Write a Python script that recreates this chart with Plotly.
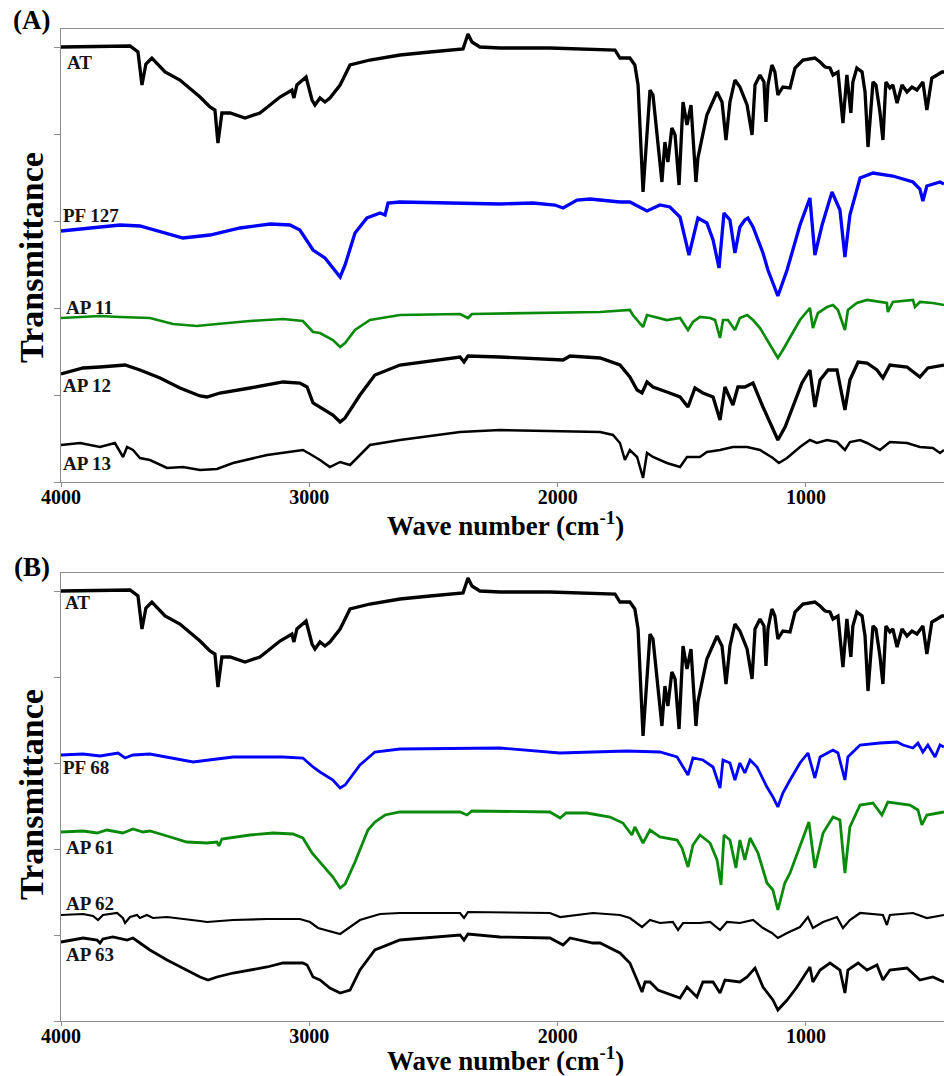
import plotly.graph_objects as go

# ---------------- data (wavenumber cm-1, transmittance in arbitrary offset units) ----------------
AT = [(4000,435),(3843,436),(3722,436),(3690,430),(3674,397),(3658,418),(3634,424),(3581,410),(3521,402),
      (3440,385),(3400,375),(3380,372),(3368,339),(3352,369),(3319,369),(3259,364),(3199,369),(3118,385),
      (3070,392),(3062,384),(3050,397),(3013,405),(2989,382),(2977,377),(2957,384),(2937,380),(2917,384),
      (2876,397),(2836,417),(2756,422),(2635,427),(2514,430),(2393,432),(2381,433),(2361,448),(2345,440),
      (2313,435),(2232,434),(2031,434),(1829,433),(1769,432),(1749,424),(1709,424),(1689,417),(1676,397),
      (1656,290),(1628,392),(1616,387),(1600,350),(1580,300),(1568,340),(1556,320),(1540,354),(1527,347),
      (1511,297),(1495,380),(1479,357),(1463,377),(1443,300),(1435,324),(1399,367),(1358,390),(1338,380),
      (1322,342),(1306,380),(1286,402),(1266,395),(1237,377),(1217,347),(1205,397),(1185,407),(1169,400),
      (1161,360),(1153,397),(1137,417),(1125,410),(1113,387),(1093,395),(1064,394),(1044,414),(1012,422),
      (964,424),(943,420),(923,415),(903,414),(891,407),(871,410),(851,359),(835,407),(819,369),(811,400),
      (795,414),(774,410),(762,390),(750,335),(730,400),(718,397),(702,370),(690,342),(678,400),(662,394),
      (650,397),(633,379),(613,397),(593,390),(573,395),(553,392),(529,400),(513,372),(493,404),(472,407),
      (452,410),(444,410)]

PF127 = [(4000,251),(3762,257),(3682,256),(3601,250),(3509,244),(3400,247),(3279,254),(3158,258),(3078,257),
         (3038,252),(3017,244),(2985,232),(2937,224),(2905,214),(2876,205),(2856,217),(2816,249),(2768,264),
         (2736,267),(2715,269),(2695,267),(2683,279),(2635,280),(2365,279),(2232,278),(2099,279),(2011,277),
         (1978,274),(1922,282),(1870,283),(1749,280),(1709,280),(1640,271),(1588,277),(1548,275),(1507,265),
         (1471,227),(1435,264),(1399,259),(1374,242),(1350,214),(1330,269),(1306,262),(1286,229),(1266,255),
         (1246,262),(1234,264),(1213,255),(1173,229),(1153,212),(1113,186),(1076,212),(1056,230),(1024,257),
         (984,284),(964,227),(935,257),(895,290),(863,272),(843,225),(823,267),(782,304),(730,309),(650,306),
         (569,300),(541,293),(529,281),(513,296),(460,300),(444,298)]

AP11 = [(4000,164),(3843,166),(3762,165),(3642,164),(3549,158),(3453,156),(3372,158),(3239,161),(3106,163),
        (3026,161),(2985,150),(2957,149),(2905,142),(2876,135),(2856,139),(2816,152),(2756,162),(2635,167),
        (2393,168),(2361,164),(2345,168),(2031,169),(1829,170),(1709,172),(1697,167),(1656,155),(1640,167),
        (1560,162),(1507,164),(1475,152),(1455,160),(1427,165),(1386,164),(1366,162),(1346,144),(1334,162),
        (1314,162),(1286,152),(1266,164),(1237,167),(1213,162),(1185,154),(1157,142),(1133,132),(1113,124),
        (1093,132),(1064,145),(1024,162),(984,174),(972,154),(952,169),(915,175),(891,177),(871,172),(843,152),
        (831,172),(795,179),(754,182),(674,179),(670,170),(650,180),(569,182),(561,175),(541,180),(489,179),
        (444,177)]

AP12 = [(4000,108),(3911,114),(3843,115),(3742,117),(3682,112),(3601,104),(3521,94),(3440,86),(3412,85),
        (3360,89),(3239,94),(3106,100),(3038,99),(3009,95),(2985,79),(2957,75),(2905,67),(2876,60),(2856,64),
        (2796,87),(2736,107),(2635,117),(2393,125),(2377,120),(2361,126),(2232,125),(1978,122),(1950,126),
        (1829,124),(1749,117),(1709,105),(1680,92),(1660,89),(1640,100),(1616,95),(1560,90),(1507,85),(1475,75),
        (1447,94),(1415,89),(1374,85),(1346,62),(1326,95),(1294,77),(1274,95),(1246,95),(1213,99),(1173,75),
        (1145,59),(1113,42),(1084,55),(1052,75),(1016,99),(984,112),(964,75),(943,102),(911,112),(875,112),
        (843,72),(823,102),(790,120),(754,119),(714,112),(690,104),(662,117),(593,115),(541,105),(509,114),
        (444,117)]

AP13 = [(4000,37),(3923,39),(3843,35),(3783,39),(3750,25),(3734,35),(3710,32),(3682,24),(3642,22),(3573,14),
        (3509,15),(3440,12),(3372,13),(3307,19),(3170,27),(3090,30),(3026,32),(2997,28),(2957,22),(2917,15),
        (2876,20),(2836,17),(2756,37),(2635,42),(2393,50),(2232,52),(1829,50),(1777,47),(1749,39),(1729,22),
        (1709,32),(1680,25),(1656,4),(1640,29),(1616,25),(1560,19),(1507,15),(1479,25),(1427,25),(1399,30),
        (1346,32),(1294,35),(1237,35),(1185,32),(1133,24),(1109,19),(1076,24),(1024,35),(984,42),(956,39),
        (915,42),(875,40),(843,32),(823,40),(782,42),(754,39),(702,32),(662,40),(593,39),(541,35),(489,34),
        (460,29),(444,32)]

PF68 = [(4000,271),(3911,272),(3843,270),(3770,273),(3742,268),(3710,271),(3642,272),(3573,269),(3468,264),
        (3372,267),(3307,269),(3106,269),(3026,268),(2985,259),(2957,254),(2905,246),(2876,238),(2856,241),
        (2796,261),(2736,274),(2635,277),(2232,278),(1991,273),(1858,274),(1721,275),(1588,274),(1519,269),
        (1475,251),(1455,268),(1415,266),(1374,259),(1346,238),(1334,266),(1306,263),(1286,246),(1266,263),
        (1246,253),(1225,266),(1197,259),(1157,239),(1133,229),(1113,219),(1093,233),(1064,246),(1024,263),
        (992,273),(964,248),(943,269),(891,276),(871,273),(843,246),(831,269),(782,281),(702,283),(633,284),
        (609,281),(569,278),(549,283),(529,274),(509,281),(480,269),(460,281),(444,279)]

AP61 = [(4000,194),(3911,195),(3855,193),(3815,196),(3751,193),(3710,197),(3670,194),(3642,195),(3573,190),
        (3493,184),(3412,183),(3372,184),(3364,180),(3352,187),(3239,191),(3146,193),(3066,192),(3026,188),
        (2989,173),(2957,164),(2905,149),(2876,138),(2856,142),(2816,164),(2764,196),(2736,204),(2695,211),
        (2635,214),(2393,214),(2365,211),(2345,215),(2031,214),(1990,208),(1966,213),(1882,213),(1789,209),
        (1737,203),(1701,191),(1689,199),(1656,183),(1628,196),(1588,189),(1519,186),(1499,178),(1475,159),
        (1455,181),(1427,191),(1386,183),(1358,166),(1342,141),(1330,191),(1306,186),(1282,158),(1266,186),
        (1246,166),(1225,188),(1193,173),(1157,143),(1133,136),(1113,116),(1085,143),(1064,153),(1024,179),
        (988,204),(964,158),(931,193),(891,209),(863,206),(843,153),(823,199),(782,221),(730,223),(694,211),
        (670,224),(581,221),(549,216),(533,201),(513,211),(444,214)]

AP62 = [(4000,111),(3911,112),(3871,110),(3851,106),(3831,111),(3774,113),(3751,108),(3742,103),(3722,109),
        (3694,111),(3682,108),(3654,111),(3630,108),(3573,109),(3440,105),(3412,104),(3307,106),(3170,107),
        (3038,107),(2997,104),(2965,98),(2917,95),(2876,92),(2796,106),(2715,112),(2635,113),(2393,113),
        (2377,108),(2361,114),(2031,113),(1990,109),(1858,113),(1749,111),(1709,108),(1680,103),(1660,99),
        (1628,106),(1588,103),(1536,104),(1515,96),(1495,103),(1427,103),(1386,104),(1346,96),(1318,104),
        (1266,103),(1213,106),(1173,98),(1137,93),(1113,88),(1076,93),(1024,99),(992,109),(972,98),(931,104),
        (875,109),(851,98),(823,106),(782,113),(690,111),(674,101),(662,111),(569,113),(513,108),(444,111)]

AP63 = [(4000,84),(3911,88),(3855,86),(3843,83),(3831,87),(3791,89),(3734,86),(3710,88),(3682,83),(3642,76),
        (3573,66),(3509,58),(3440,49),(3408,46),(3372,49),(3307,53),(3170,59),(3106,63),(3026,63),(3009,61),
        (2985,49),(2957,46),(2917,38),(2876,33),(2836,36),(2796,56),(2736,76),(2635,86),(2393,91),(2377,86),
        (2361,92),(2232,89),(2031,88),(1978,81),(1950,88),(1858,83),(1829,83),(1749,73),(1709,63),(1680,46),
        (1660,34),(1648,44),(1628,44),(1596,36),(1560,33),(1507,28),(1479,39),(1439,29),(1415,44),(1374,44),
        (1346,33),(1326,46),(1266,44),(1237,49),(1205,58),(1173,39),(1133,26),(1113,16),(1076,26),(1036,39),
        (984,59),(972,44),(943,56),(903,63),(863,56),(843,33),(831,56),(790,63),(754,56),(714,61),(690,46),
        (662,56),(593,58),(541,46),(489,49),(444,44)]

X_TICKS = [4000, 3000, 2000, 1000]
X_TICK_LABELS = ["4000", "3000", "2000", "1000"]

PANEL_A = [("AT", AT, "#000000", 3.3), ("PF 127", PF127, "#0000ff", 3.3), ("AP 11", AP11, "#0a8a0a", 2.7),
           ("AP 12", AP12, "#000000", 3.3), ("AP 13", AP13, "#000000", 2.5)]
PANEL_B = [("AT", AT, "#000000", 3.3), ("PF 68", PF68, "#0000ff", 2.8), ("AP 61", AP61, "#0a8a0a", 2.8),
           ("AP 62", AP62, "#000000", 2.2), ("AP 63", AP63, "#000000", 2.8)]

# ---------------- figure ----------------
W, H = 944, 1076
L = 61
SERIF = "Liberation Serif, Times New Roman, serif"


def pxx(xp):
    return (xp - L) / (W - L)


def pxy(yp):
    return 1 - yp / H


fig = go.Figure()
for name, data, color, lw in PANEL_A:
    fig.add_trace(go.Scatter(x=[p[0] for p in data], y=[p[1] for p in data], mode="lines", name=name,
                             line=dict(color=color, width=lw), xaxis="x", yaxis="y", showlegend=False))
for name, data, color, lw in PANEL_B:
    fig.add_trace(go.Scatter(x=[p[0] for p in data], y=[p[1] for p in data], mode="lines", name=name,
                             line=dict(color=color, width=lw), xaxis="x2", yaxis="y2", showlegend=False))

axis_common = dict(showline=True, linecolor="#8c8c8c", linewidth=1.3, showgrid=False, zeroline=False,
                   ticks="outside", tickcolor="#8c8c8c", tickwidth=1.2)
xa = dict(axis_common, range=[4000, 444], tickvals=X_TICKS,
          ticktext=["<b>%s</b>" % t for t in X_TICK_LABELS], mirror=True, ticklen=4,
          ticklabelstandoff=-7,
          tickfont=dict(family=SERIF, size=20, color="black"))
fig.update_layout(
    width=W, height=H, margin=dict(l=L, r=0, t=0, b=0),
    paper_bgcolor="white", plot_bgcolor="white",
    xaxis=dict(xa, domain=[0, 1], anchor="y"),
    yaxis=dict(axis_common, domain=[pxy(482), pxy(29)], anchor="x", range=[0, 453],
               tickvals=[0, 87, 174, 261, 348, 435], showticklabels=False, ticklen=6),
    xaxis2=dict(xa, domain=[0, 1], anchor="y2"),
    yaxis2=dict(axis_common, domain=[pxy(1021), pxy(573)], anchor="x2", range=[5, 453],
                tickvals=[5, 91, 177, 263, 349, 435], showticklabels=False, ticklen=6),
)

ann = []


def text(t, xp, yp, size, xanchor="center", angle=0, color="black"):
    ann.append(dict(text=t, x=pxx(xp), y=pxy(yp), xref="paper", yref="paper", showarrow=False,
                    xanchor=xanchor, yanchor="middle", textangle=angle, borderpad=0,
                    font=dict(family=SERIF, size=size, color=color)))


text("<b>(A)</b>", 31, 20, 27)
text("<b>(B)</b>", 32, 567, 27)
text("<b>Transmittance</b>", 31, 258, 34, angle=-90)
text("<b>Transmittance</b>", 31, 795, 34, angle=-90)
text("<b>Wave number (cm<sup>-1</sup>)</b>", 505, 524, 27)
text("<b>Wave number (cm<sup>-1</sup>)</b>", 505, 1059, 27)

LAB = "#141414"
for t, xp, yp in [("AT", 66, 62), ("PF 127", 62, 215), ("AP 11", 65, 308), ("AP 12", 62, 385), ("AP 13", 62, 463),
                  ("AT", 64, 603), ("PF 68", 62, 767), ("AP 61", 65, 847), ("AP 62", 65, 903), ("AP 63", 65, 954)]:
    text("<b>%s</b>" % t, xp, yp, 19, xanchor="left", color=LAB)

fig.update_layout(annotations=ann)
fig.write_html("out.html")
